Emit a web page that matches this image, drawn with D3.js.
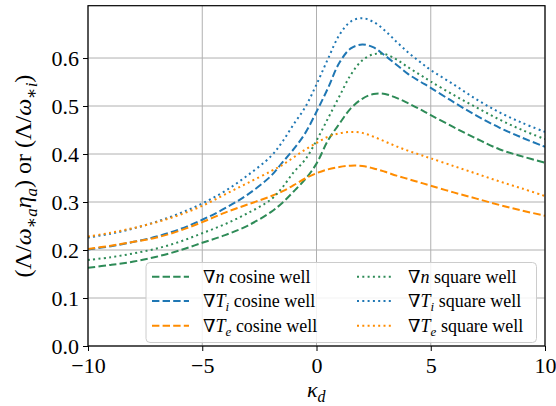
<!DOCTYPE html>
<html><head><meta charset="utf-8">
<script src="https://cdn.jsdelivr.net/npm/d3@7"></script>
<style>
html,body{margin:0;padding:0;background:#fff;}
svg{display:block;}
</style></head>
<body>
<svg id="chart" width="556" height="406"></svg>
<script>
// ---- data ----
const kappa = [-10,-9,-8,-7,-6,-5,-4,-3,-2,-1.5,-1,-0.5,0,0.5,1,1.5,2,2.5,3,3.5,4,4.5,5,6,7,8,9,10];
const nCosine  = [0.163,0.169,0.176,0.186,0.199,0.215,0.231,0.251,0.279,0.298,0.322,0.347,0.380,0.428,0.463,0.495,0.515,0.525,0.525,0.517,0.506,0.494,0.481,0.456,0.432,0.410,0.395,0.382];
const TiCosine = [0.201,0.208,0.217,0.228,0.243,0.263,0.287,0.316,0.354,0.382,0.410,0.443,0.488,0.537,0.590,0.620,0.628,0.622,0.605,0.586,0.567,0.552,0.538,0.508,0.480,0.455,0.434,0.415];
const TeCosine = [0.202,0.209,0.217,0.226,0.240,0.258,0.278,0.295,0.312,0.322,0.335,0.349,0.360,0.368,0.373,0.3757,0.375,0.370,0.363,0.355,0.348,0.341,0.334,0.320,0.307,0.294,0.282,0.2715];
const nSquare  = [0.179,0.185,0.193,0.203,0.217,0.235,0.254,0.277,0.305,0.330,0.362,0.388,0.428,0.474,0.520,0.565,0.595,0.608,0.608,0.597,0.581,0.566,0.551,0.523,0.497,0.472,0.450,0.431];
const TiSquare = [0.226,0.234,0.245,0.259,0.276,0.297,0.323,0.356,0.395,0.425,0.462,0.497,0.545,0.598,0.648,0.676,0.683,0.675,0.657,0.634,0.612,0.593,0.575,0.545,0.514,0.487,0.465,0.446];
const TeSquare = [0.228,0.236,0.246,0.258,0.273,0.292,0.316,0.340,0.364,0.377,0.393,0.409,0.423,0.436,0.443,0.446,0.444,0.436,0.426,0.416,0.407,0.399,0.391,0.375,0.359,0.343,0.328,0.3125];
const xTicks = [-10,-5,0,5,10];
const yTicks = [0.0,0.1,0.2,0.3,0.4,0.5,0.6];

const series = [
  {vals:nCosine,  color:"#2e8b57", style:"dashed", label:[["∇",""],["n","i"],[" cosine well",""]]},
  {vals:TiCosine, color:"#1f77b4", style:"dashed", label:[["∇",""],["T","i"],["i","sub"],[" cosine well",""]]},
  {vals:TeCosine, color:"#ff8c00", style:"dashed", label:[["∇",""],["T","i"],["e","sub"],[" cosine well",""]]},
  {vals:nSquare,  color:"#2e8b57", style:"dotted", label:[["∇",""],["n","i"],[" square well",""]]},
  {vals:TiSquare, color:"#1f77b4", style:"dotted", label:[["∇",""],["T","i"],["i","sub"],[" square well",""]]},
  {vals:TeSquare, color:"#ff8c00", style:"dotted", label:[["∇",""],["T","i"],["e","sub"],[" square well",""]]}
];

const FONT = "'Liberation Serif','Times New Roman','DejaVu Serif','Noto Serif',serif";
const svg = d3.select("#chart");
const L=88, R=545, T=5.7, B=346;
const x = d3.scaleLinear().domain([-10,10]).range([L,R]);
const y = d3.scaleLinear().domain([0,0.709]).range([B,T]);
const dash = {dashed:"7.4,3.2", dotted:"2,3.3"};

// grid
svg.append("g").selectAll("line").data(xTicks).join("line")
  .attr("x1",d=>x(d)).attr("x2",d=>x(d)).attr("y1",T).attr("y2",B)
  .attr("stroke","#b0b0b0").attr("stroke-width",1);
svg.append("g").selectAll("line").data(yTicks).join("line")
  .attr("x1",L).attr("x2",R).attr("y1",d=>y(d)).attr("y2",d=>y(d))
  .attr("stroke","#b0b0b0").attr("stroke-width",1);

// curves
svg.append("clipPath").attr("id","clip").append("rect")
  .attr("x",L).attr("y",T).attr("width",R-L).attr("height",B-T);
const line = d3.line().x((d,i)=>x(kappa[i])).y(d=>y(d)).curve(d3.curveCatmullRom.alpha(0.5));
svg.append("g").attr("clip-path","url(#clip)").selectAll("path").data(series).join("path")
  .attr("d",d=>line(d.vals)).attr("fill","none")
  .attr("stroke",d=>d.color).attr("stroke-width",2)
  .attr("stroke-dasharray",d=>dash[d.style]);

// axes
const xAxis = svg.append("g").attr("transform",`translate(0,${B})`)
  .call(d3.axisBottom(x).tickValues(xTicks).tickSize(5).tickPadding(6).tickFormat(d=>d<0?"\u2212"+Math.abs(d):d));
const yAxis = svg.append("g").attr("transform",`translate(${L},0)`)
  .call(d3.axisLeft(y).tickValues(yTicks).tickSize(5).tickPadding(4).tickFormat(d3.format(".1f")));
[xAxis,yAxis].forEach(a=>{
  a.attr("font-family",null).attr("font-size",null);
  a.select(".domain").remove();
  a.selectAll("line").attr("stroke","#000").attr("stroke-width",1);
  a.selectAll("text").attr("fill","#000").style("font-size","22px").style("font-family",FONT);
});
xAxis.selectAll("text").attr("dy","0.72em");
// frame
svg.append("rect").attr("x",L).attr("y",T).attr("width",R-L).attr("height",B-T)
  .attr("fill","none").attr("stroke","#000").attr("stroke-width",1.2);

// legend
const lg = svg.append("g");
lg.append("rect").attr("x",146).attr("y",262.5).attr("width",390.5).attr("height",80)
  .attr("rx",4).attr("fill","#fff").attr("fill-opacity",0.85).attr("stroke","#cccccc").attr("stroke-width",1);
const colX = [[152,189,203],[357,393.5,408]];
const rowY = [276.7,301,325.7];
series.forEach((s,i)=>{
  const c = colX[Math.floor(i/3)], ry = rowY[i%3];
  lg.append("line").attr("x1",c[0]).attr("x2",c[1]).attr("y1",ry).attr("y2",ry)
    .attr("stroke",s.color).attr("stroke-width",2).attr("stroke-dasharray",dash[s.style]);
  const t = lg.append("text").attr("x",c[2]).attr("y",ry+6)
    .style("font-size","18px").style("font-family",FONT);
  s.label.forEach(([txt,st])=>{
    const sp = t.append("tspan").text(txt);
    if(st==="i") sp.style("font-style","italic");
    if(st==="sub") sp.style("font-style","italic").style("font-size","13px").attr("dy",4);
    if(st===""&&txt.startsWith(" ")&&s.label.some(l=>l[1]==="sub")) sp.attr("dy",-4);
  });
});

// axis labels
const xl = svg.append("text").attr("x",307).attr("y",397).style("font-size","22px").style("font-family",FONT);
xl.append("tspan").text("κ").style("font-style","italic");
xl.append("tspan").text("d").style("font-style","italic").style("font-size","16px").attr("dy",5);

const yl = svg.append("text").attr("transform","translate(31,176) rotate(-90)")
  .attr("text-anchor","middle").style("font-size","24px").style("font-family",FONT);
const parts = [["(Λ/",""],["ω","i"],["∗a","sub"],["η","i2"],["a","sub"],[") or (Λ/","up"],["ω","i"],["∗i","sub"],[")","up"]];
parts.forEach(([txt,st])=>{
  const sp = yl.append("tspan").text(txt);
  if(st==="i") sp.style("font-style","italic");
  if(st==="i2") sp.style("font-style","italic").attr("dy",-6);
  if(st==="sub") sp.style("font-size","17px").attr("dy",6).style("font-style","italic");
  if(st==="up") sp.attr("dy",-6);
});
</script>
</body></html>
